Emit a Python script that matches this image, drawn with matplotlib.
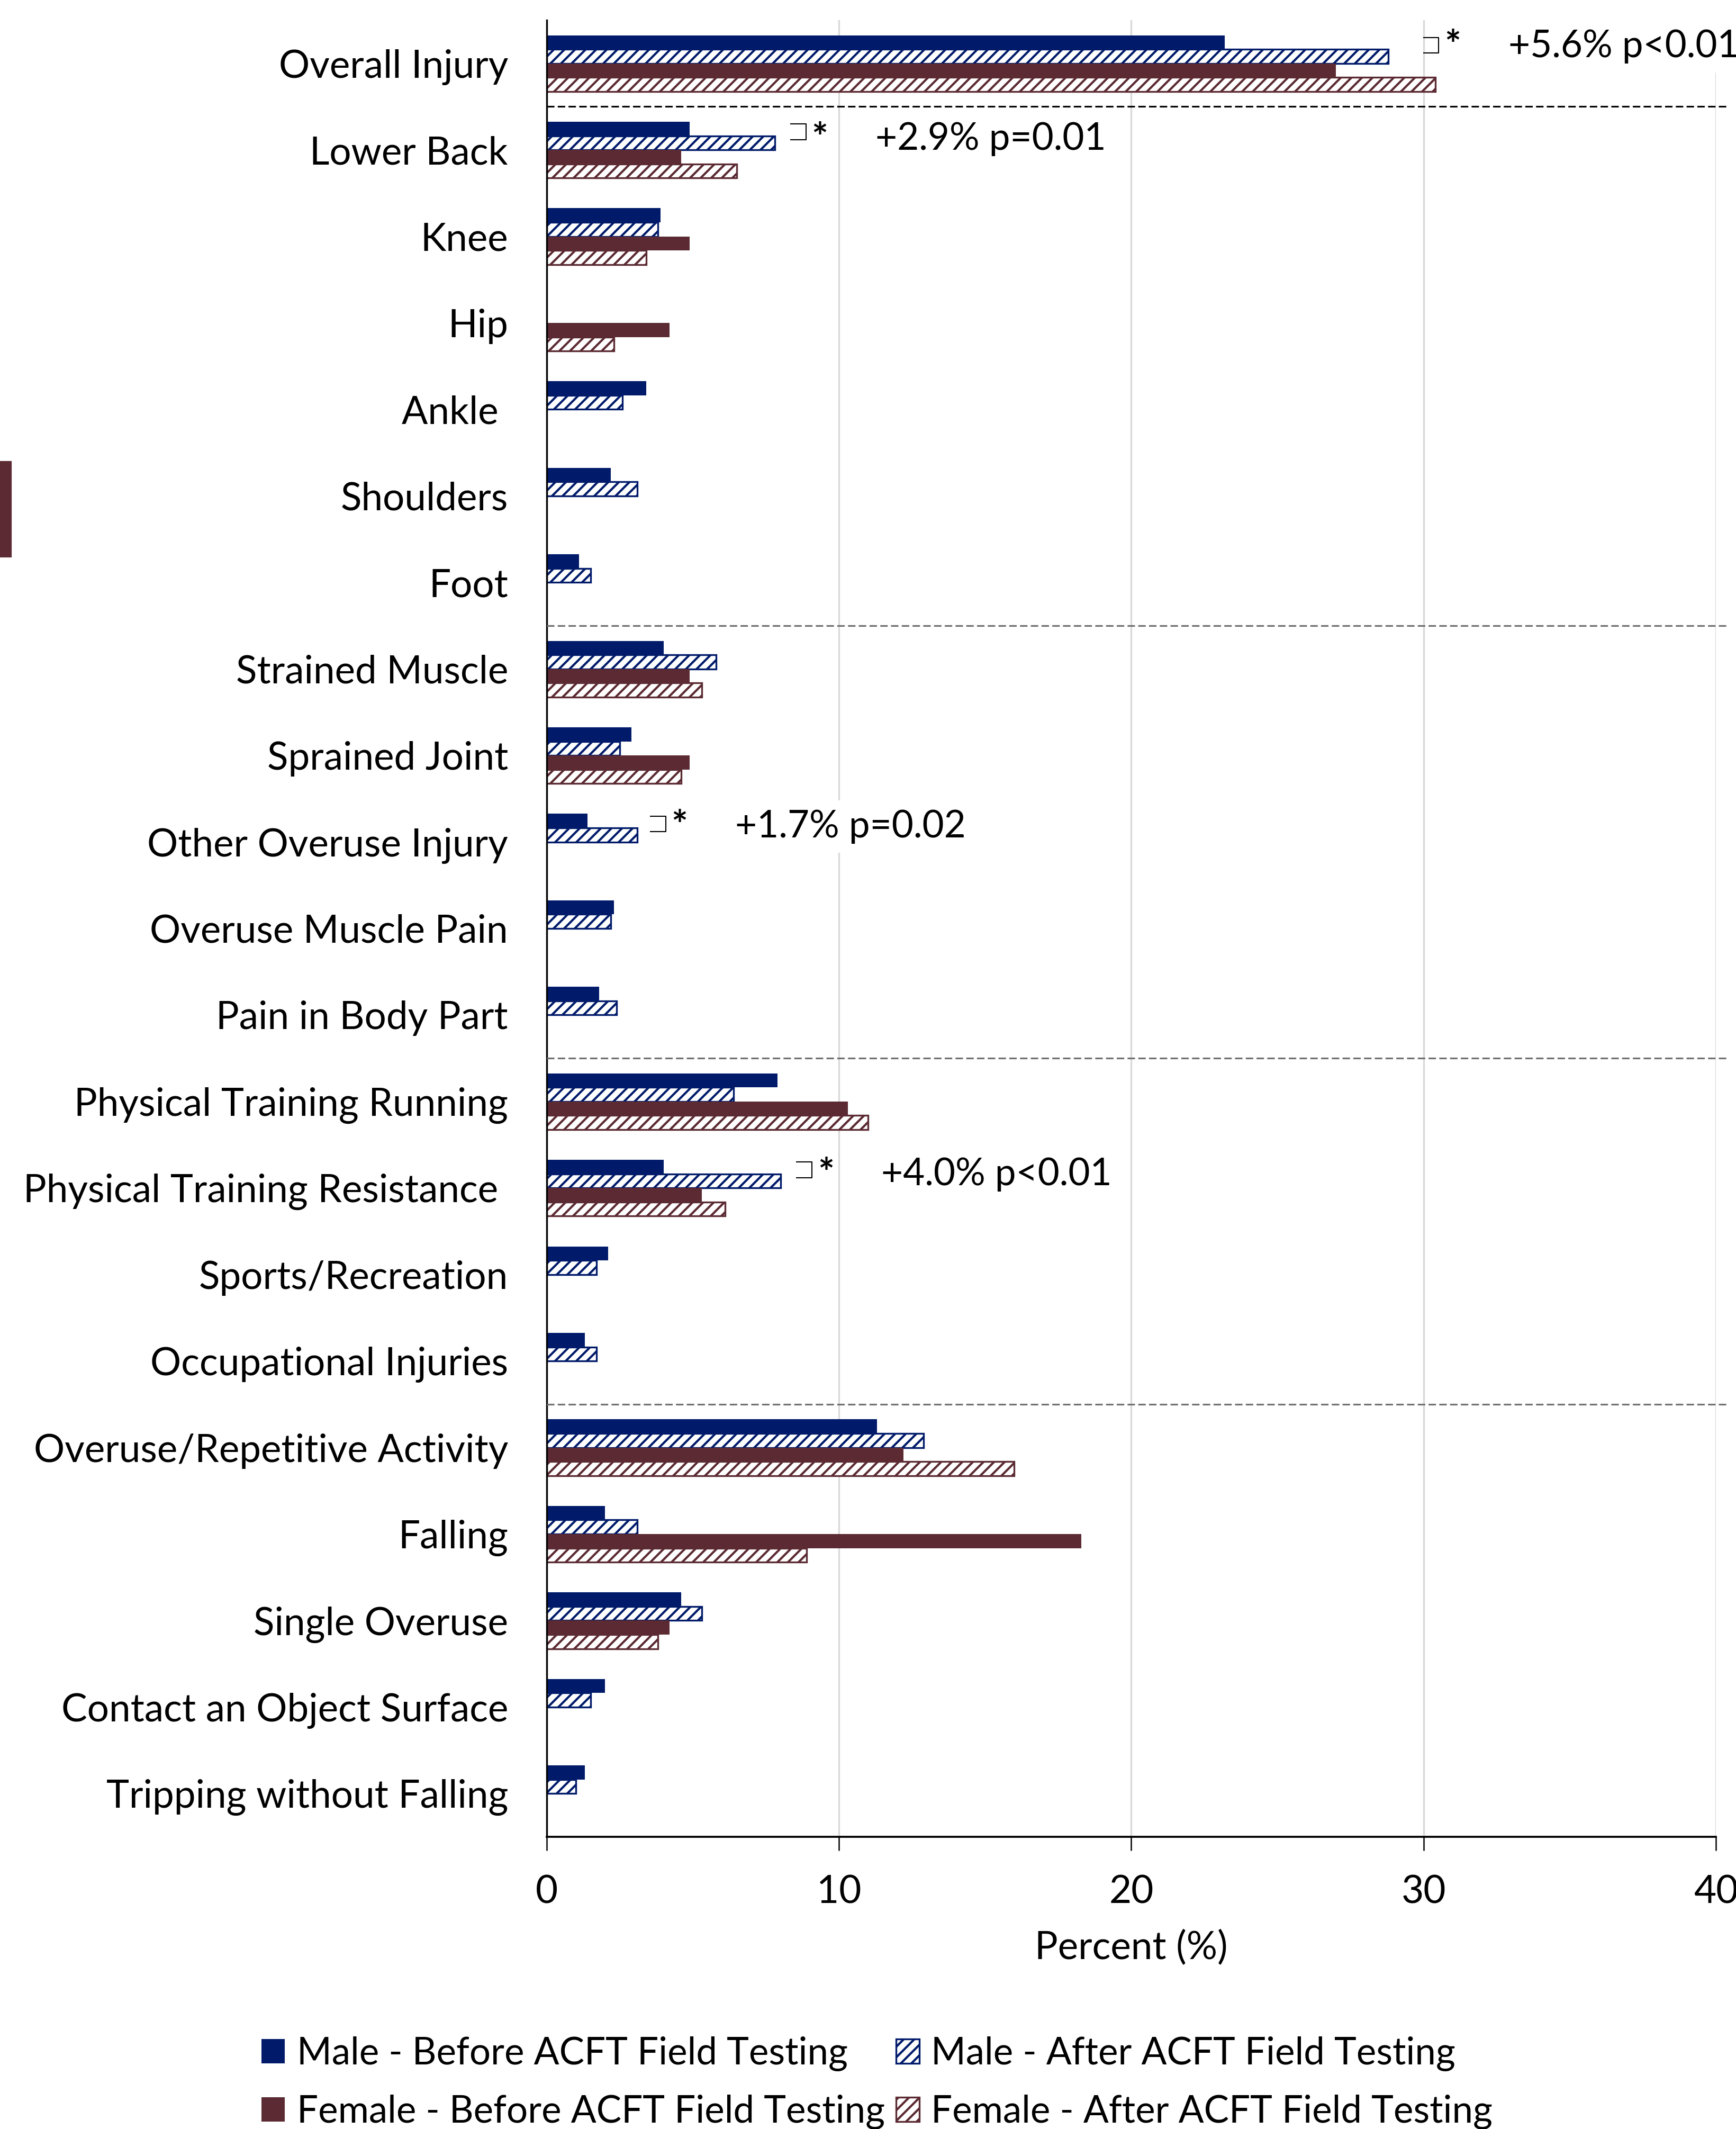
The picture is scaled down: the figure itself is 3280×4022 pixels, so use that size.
import numpy as np
import matplotlib
matplotlib.use("Agg")
import matplotlib.pyplot as plt
from matplotlib.patches import Patch, Rectangle

plt.rcParams['font.family'] = ['Lato', 'DejaVu Sans']
plt.rcParams['hatch.linewidth'] = 1.0

nan = np.nan

categories = ["Overall Injury", "Lower Back", "Knee", "Hip", "Ankle ",
              "Shoulders", "Foot", "Strained Muscle", "Sprained Joint",
              "Other Overuse Injury", "Overuse Muscle Pain",
              "Pain in Body Part", "Physical Training Running",
              "Physical Training Resistance ", "Sports/Recreation",
              "Occupational Injuries", "Overuse/Repetitive Activity",
              "Falling", "Single Overuse", "Contact an Object Surface",
              "Tripping without Falling"]

male_before = [23.2, 4.9, 3.9, nan, 3.4, 2.2, 1.1, 4.0, 2.9, 1.4, 2.3,
               1.8, 7.9, 4.0, 2.1, 1.3, 11.3, 2.0, 4.6, 2.0, 1.3]
male_after = [28.8, 7.8, 3.8, nan, 2.6, 3.1, 1.5, 5.8, 2.5, 3.1, 2.2,
              2.4, 6.4, 8.0, 1.7, 1.7, 12.9, 3.1, 5.3, 1.5, 1.0]
female_before = [27.0, 4.6, 4.9, 4.2, nan, nan, nan, 4.9, 4.9, nan, nan,
                 nan, 10.3, 5.3, nan, nan, 12.2, 18.3, 4.2, nan, nan]
female_after = [30.4, 6.5, 3.4, 2.3, nan, nan, nan, 5.3, 4.6, nan, nan,
                nan, 11.0, 6.1, nan, nan, 16.0, 8.9, 3.8, nan, nan]

series_labels = ["Male - Before ACFT Field Testing",
                 "Male - After ACFT Field Testing",
                 "Female - Before ACFT Field Testing",
                 "Female - After ACFT Field Testing"]

# significant changes (male before -> after)
sig_rows = [0, 1, 9, 13]
sig_text = ["+5.6% p<0.01", "+2.9% p=0.01", "+1.7% p=0.02", "+4.0% p<0.01"]

separators = [0.5, 6.5, 11.5, 15.5]

NAVY = '#011b6a'
MAROON = '#5b2a32'
FS = 17.5
FS_SMALL = 17

fig = plt.figure(figsize=(3280 / 300, 4022 / 300), dpi=300)
ax = fig.add_axes([0.3149, 0.13725, 0.67348, 0.8533])

y = np.arange(len(categories))
h = 0.1625
series = [male_before, male_after, female_before, female_after]
styles = [dict(color=NAVY, lw=0),
          dict(facecolor='white', edgecolor=NAVY, hatch='/////', lw=0.8),
          dict(color=MAROON, lw=0),
          dict(facecolor='white', edgecolor=MAROON, hatch='/////', lw=0.8)]
for k, (vals, st) in enumerate(zip(series, styles)):
    ax.barh(y + (k - 1.5) * h, np.array(vals, dtype=float), height=h,
            zorder=2, **st)

ax.set_xlim(0, 40)
ax.set_ylim(len(categories) - 0.5, -0.5)
ax.set_xticks([0, 10, 20, 30, 40])
ax.set_yticks(y)
ax.set_yticklabels(categories, fontsize=FS)
ax.tick_params(axis='y', length=0, pad=17.5)
ax.tick_params(axis='x', labelsize=FS, length=6.2, width=0.6, pad=11)
ax.set_xlabel("Percent (%)", fontsize=FS, labelpad=9)

ax.set_axisbelow(True)
ax.xaxis.grid(True, color='#d9d9d9', lw=0.8)
for s in ['top', 'right']:
    ax.spines[s].set_visible(False)
ax.spines['left'].set_linewidth(0.8)
ax.spines['bottom'].set_linewidth(0.9)

for i, yy in enumerate(separators):
    ax.plot([0, 40.45], [yy, yy], color='black' if i == 0 else '#707070',
            lw=0.75, dashes=(4.5, 2), clip_on=False, zorder=5)

gaps = [1.2, 0.55, 0.45, 0.55]
text_dy = [-0.07, 0.0, -0.05, -0.03]
for r, txt, g, dy in zip(sig_rows, sig_text, gaps, text_dy):
    x0 = max(male_before[r], male_after[r]) + g
    w = 0.52
    ax.plot([x0, x0 + w, x0 + w, x0], [r - 0.30, r - 0.30, r - 0.12, r - 0.12],
            color='black', lw=0.5, zorder=4)
    ax.text(x0 + 1.0, r + dy + 0.01, "*", fontsize=FS, fontweight='bold',
            ha='center', va='baseline', zorder=4)
    ax.text(x0 + 2.9, r + dy, txt, fontsize=FS_SMALL, ha='left',
            va='baseline', zorder=3,
            bbox=dict(facecolor='white', edgecolor='none', pad=4))

# stray marker at left edge
fig.patches.append(Rectangle((0, 1 - 1051 / 4022), 20 / 3280, 178 / 4022,
                             transform=fig.transFigure, color=MAROON))

handles = [Patch(**styles[0]), Patch(**styles[2]),
           Patch(**styles[1]), Patch(**styles[3])]
labels = [series_labels[0], series_labels[2],
          series_labels[1], series_labels[3]]
fig.legend(handles, labels, loc='upper left', bbox_to_anchor=(0.1506, 0.0435),
           ncol=2, frameon=False, fontsize=FS_SMALL, handlelength=0.62,
           handleheight=0.62, handletextpad=0.32, columnspacing=0.3,
           borderpad=0, borderaxespad=0, labelspacing=0.62)

fig.savefig("out.png", dpi=300)
